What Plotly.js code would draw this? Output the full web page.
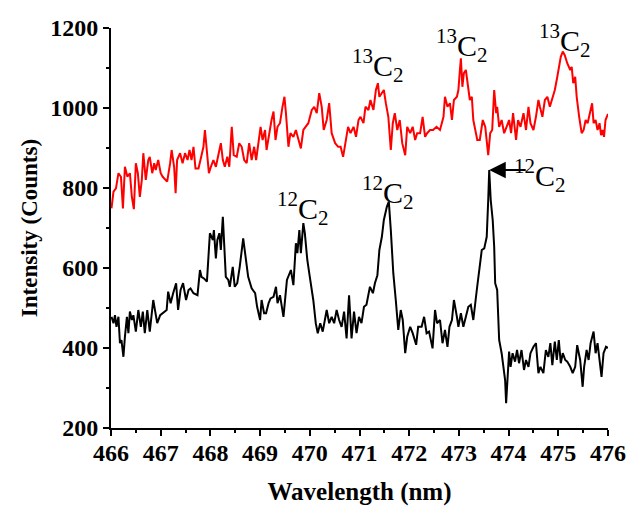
<!DOCTYPE html>
<html>
<head>
<meta charset="utf-8">
<script src="https://cdn.plot.ly/plotly-3.0.1.min.js"></script>
<style>html,body{margin:0;padding:0;background:#fff;}#chart{width:626px;height:506px;}</style>
</head>
<body>
<div id="chart"></div>
<script>
// Wavelength (nm) / intensity (counts) — black spectrum (12C2 bands)
const blackX = [466.01,466.05,466.08,466.11,466.15,466.18,466.21,466.25,466.28,466.32,466.35,466.38,466.42,466.45,466.50,466.55,466.60,466.64,466.68,466.73,466.78,466.85,466.89,466.93,466.99,467.05,467.12,467.15,467.20,467.25,467.31,467.35,467.40,467.45,467.51,467.56,467.60,467.66,467.74,467.79,467.82,467.87,467.93,467.99,468.05,468.07,468.11,468.14,468.18,468.21,468.25,468.28,468.31,468.36,468.39,468.45,468.49,468.54,468.59,468.66,468.71,468.76,468.83,468.90,468.94,469.00,469.03,469.08,469.12,469.17,469.21,469.27,469.32,469.35,469.40,469.47,469.54,469.57,469.62,469.67,469.72,469.75,469.79,469.82,469.87,469.90,469.95,470.00,470.07,470.12,470.16,470.21,470.26,470.34,470.39,470.44,470.49,470.54,470.59,470.64,470.69,470.74,470.79,470.84,470.89,470.94,470.99,471.04,471.09,471.14,471.21,471.27,471.31,471.36,471.40,471.45,471.49,471.55,471.59,471.63,471.68,471.73,471.78,471.83,471.87,471.92,471.96,472.02,472.07,472.14,472.18,472.25,472.30,472.35,472.40,472.47,472.52,472.56,472.62,472.67,472.72,472.77,472.81,472.86,472.90,472.96,472.99,473.04,473.09,473.14,473.19,473.24,473.29,473.36,473.41,473.46,473.51,473.56,473.59,473.61,473.64,473.68,473.71,473.73,473.77,473.81,473.86,473.89,473.93,473.95,473.98,474.01,474.04,474.08,474.13,474.17,474.21,474.26,474.31,474.35,474.40,474.44,474.50,474.55,474.60,474.64,474.70,474.75,474.80,474.84,474.88,474.93,474.97,475.01,475.05,475.09,475.14,475.18,475.24,475.29,475.34,475.38,475.44,475.49,475.52,475.57,475.61,475.65,475.71,475.75,475.79,475.83,475.87,475.91,475.96,476.00];
const blackY = [478,462,482,453,478,412,420,378,428,478,437,491,470,482,441,495,453,491,437,495,441,520,491,462,482,487,495,541,512,537,562,495,545,562,520,545,549,537,532,595,578,574,566,687,670,695,624,670,687,645,728,653,578,570,553,603,553,562,603,674,620,578,549,537,503,470,520,487,487,512,524,528,553,512,532,478,570,578,595,557,662,637,695,637,712,687,620,578,520,462,437,462,441,495,462,478,462,495,470,453,491,424,532,424,491,437,478,462,503,508,553,537,562,582,645,678,720,753,766,695,587,520,445,495,470,387,428,453,437,408,453,453,478,437,441,399,495,462,470,412,445,403,453,470,520,478,453,487,453,478,503,508,470,545,603,645,649,678,770,845,770,720,653,562,545,420,387,353,320,262,337,391,353,387,366,395,362,395,345,370,353,387,403,412,337,353,337,395,378,412,357,416,370,420,362,387,370,366,353,337,353,407,370,303,353,395,370,412,441,387,412,370,328,387,403,400];

// Red spectrum (13C2 bands)
const redX = [466.01,466.05,466.10,466.15,466.20,466.24,466.28,466.33,466.38,466.42,466.46,466.50,466.54,466.58,466.62,466.65,466.70,466.75,466.78,466.83,466.87,466.90,466.95,467.00,467.04,467.09,467.13,467.19,467.22,467.27,467.30,467.33,467.39,467.44,467.49,467.54,467.58,467.62,467.66,467.70,467.76,467.80,467.86,467.89,467.93,467.97,468.01,468.06,468.11,468.16,468.21,468.25,468.29,468.34,468.38,468.43,468.47,468.53,468.58,468.63,468.68,468.73,468.78,468.83,468.88,468.92,468.96,469.01,469.05,469.10,469.13,469.18,469.23,469.27,469.31,469.35,469.40,469.45,469.49,469.52,469.57,469.61,469.67,469.72,469.77,469.82,469.87,469.92,469.97,470.04,470.09,470.14,470.19,470.24,470.28,470.34,470.39,470.44,470.51,470.57,470.62,470.67,470.73,470.77,470.82,470.88,470.93,470.98,471.02,471.08,471.12,471.18,471.22,471.28,471.33,471.37,471.40,471.45,471.49,471.53,471.58,471.63,471.67,471.71,471.76,471.81,471.86,471.92,471.96,472.02,472.07,472.12,472.16,472.22,472.27,472.32,472.36,472.42,472.48,472.55,472.62,472.69,472.72,472.77,472.82,472.86,472.90,472.96,472.99,473.02,473.04,473.07,473.10,473.14,473.19,473.22,473.26,473.29,473.33,473.37,473.42,473.48,473.53,473.56,473.59,473.63,473.67,473.71,473.75,473.77,473.81,473.86,473.91,473.96,474.01,474.05,474.09,474.15,474.19,474.24,474.30,474.35,474.40,474.44,474.50,474.55,474.60,474.63,474.68,474.73,474.78,474.83,474.89,474.93,474.98,475.02,475.05,475.09,475.13,475.18,475.24,475.27,475.30,475.34,475.37,475.42,475.47,475.51,475.55,475.59,475.64,475.68,475.71,475.75,475.79,475.83,475.86,475.89,475.92,475.95,476.00];
const redY = [749,791,799,837,828,749,853,828,837,778,747,862,837,778,820,887,820,870,878,837,862,845,870,837,828,820,816,862,895,853,787,870,887,862,887,870,895,870,903,849,849,870,903,945,891,837,853,870,853,887,912,870,853,878,853,953,882,878,912,903,870,862,912,870,903,870,903,953,920,945,895,937,970,991,920,953,962,1003,1028,987,903,937,928,945,920,899,945,953,962,995,1003,987,1037,1003,945,970,1012,937,912,903,903,878,920,953,937,953,928,970,978,962,1003,995,1020,995,1045,1062,1028,1037,1045,1012,978,895,962,987,945,970,912,882,953,937,953,920,937,937,978,928,937,945,945,953,945,978,1028,1003,1012,970,1020,1028,1045,1095,1124,1053,1087,1095,1053,1020,1028,970,945,920,920,970,953,912,882,937,945,1045,987,1003,953,970,937,953,970,937,987,920,970,953,987,945,1003,962,945,978,1020,1003,978,1020,1028,1003,1028,1045,1078,1103,1128,1141,1132,1112,1095,1103,1062,1078,1028,978,937,945,970,962,995,1012,962,970,945,962,932,945,928,970,985];

// Axis ticks
const xTicks = [466,467,468,469,470,471,472,473,474,475,476];
const yTicks = [200,400,600,800,1000,1200];

// Band labels: position and text
const labelX = [471.37, 473.06, 475.13, 469.86, 471.57, 474.63];
const labelY = [1107, 1157, 1170, 750, 790, 832];
const labelText = ['<sup>13</sup>C<sub>2</sub>','<sup>13</sup>C<sub>2</sub>','<sup>13</sup>C<sub>2</sub>','<sup>12</sup>C<sub>2</sub>','<sup>12</sup>C<sub>2</sub>','<sup>12</sup>C<sub>2</sub>'];
// Arrow pointing to the 12C2 peak
const arrowX = 473.61, arrowY = 845;

const serif = 'Liberation Serif, Times New Roman, serif';

const traces = [
  {x: redX, y: redY, type: 'scatter', mode: 'lines', line: {color: '#ff0000', width: 2}, hoverinfo: 'skip'},
  {x: blackX, y: blackY, type: 'scatter', mode: 'lines', line: {color: '#000000', width: 2}, hoverinfo: 'skip'}
];

const annotations = labelX.map((lx, i) => ({
  x: lx, y: labelY[i], xref: 'x', yref: 'y', text: labelText[i], showarrow: false,
  font: {family: serif, size: 30, color: '#000'}, xanchor: 'center', yanchor: 'middle'
}));
annotations.push({
  x: arrowX, y: arrowY, xref: 'x', yref: 'y', text: '', showarrow: true,
  ax: 38, ay: 0, arrowhead: 2, arrowsize: 1.5, arrowwidth: 2.2, arrowcolor: '#000'
});

const layout = {
  width: 626, height: 506,
  margin: {l: 111, r: 18, t: 28, b: 78},
  paper_bgcolor: '#fff', plot_bgcolor: '#fff',
  showlegend: false,
  font: {family: serif, color: '#000'},
  xaxis: {
    range: [466, 476], tickvals: xTicks, ticktext: xTicks.map(String),
    showline: true, linewidth: 2, linecolor: '#000', mirror: false,
    ticks: 'outside', ticklen: 6, tickwidth: 2, tickcolor: '#000',
    minor: {dtick: 0.5, tick0: 466, ticks: 'outside', ticklen: 3, tickwidth: 2, tickcolor: '#000', showgrid: false},
    showgrid: false, zeroline: false, ticklabelstandoff: -4,
    tickfont: {family: serif, size: 24, weight: 'bold', color: '#000'},
    title: {text: 'Wavelength (nm)', font: {family: serif, size: 25, weight: 'bold', color: '#000'}, standoff: 18}
  },
  yaxis: {
    range: [200, 1200], tickvals: yTicks, ticktext: yTicks.map(String),
    showline: true, linewidth: 2, linecolor: '#000', mirror: false,
    ticks: 'outside', ticklen: 6, tickwidth: 2, tickcolor: '#000',
    minor: {dtick: 100, tick0: 200, ticks: 'outside', ticklen: 3, tickwidth: 2, tickcolor: '#000', showgrid: false},
    showgrid: false, zeroline: false,
    tickfont: {family: serif, size: 24, weight: 'bold', color: '#000'},
    title: {text: 'Intensity (Counts)', font: {family: serif, size: 23, weight: 'bold', color: '#000'}, standoff: 6}
  },
  annotations: annotations
};

Plotly.newPlot('chart', traces, layout, {staticPlot: true, displayModeBar: false});
</script>
</body>
</html>
